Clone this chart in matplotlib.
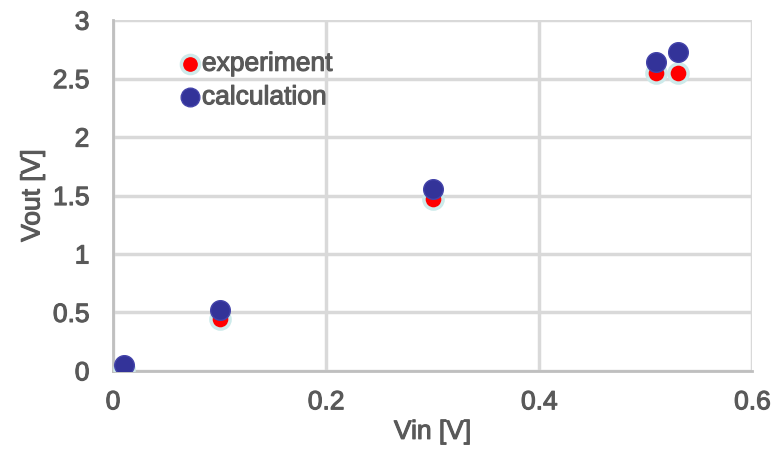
import matplotlib.pyplot as plt
import matplotlib.patheffects as pe

vin = [0.01, 0.1, 0.3, 0.51, 0.53]
vout_exp = [0.02, 0.44, 1.47, 2.55, 2.55]
vout_calc = [0.05, 0.52, 1.56, 2.64, 2.73]

x_ticks = [0, 0.2, 0.4, 0.6]
y_ticks = [0, 0.5, 1, 1.5, 2, 2.5, 3]
x_tick_labels = ['0', '0.2', '0.4', '0.6']
y_tick_labels = ['0', '0.5', '1', '1.5', '2', '2.5', '3']

plt.rcParams['font.family'] = ['Liberation Sans', 'DejaVu Sans']
text_color = '#595959'
bold_fx = [pe.withStroke(linewidth=0.8, foreground=text_color)]

fig = plt.figure(figsize=(7.74, 4.59), dpi=100)
ax = fig.add_axes([0.146, 0.192, 0.826, 0.764])

ax.scatter(vin, vout_exp, s=190, color='red', edgecolors='#cdeaea',
           linewidths=2.5, zorder=3, label='experiment')
ax.scatter(vin, vout_calc, s=200, color='#333399', edgecolors='#4444aa',
           linewidths=1, zorder=4, label='calculation')

ax.set_xlim(0, 0.6)
ax.set_ylim(0, 3)
ax.set_xticks(x_ticks)
ax.set_xticklabels(x_tick_labels)
ax.set_yticks(y_ticks)
ax.set_yticklabels(y_tick_labels)
ax.grid(True, color='#d9d9d9', linewidth=2.5, zorder=0)
ax.set_axisbelow(True)

for side in ['top', 'right']:
    ax.spines[side].set_visible(False)
for side in ['left', 'bottom']:
    ax.spines[side].set_color('#bfbfbf')
    ax.spines[side].set_linewidth(2)

ax.tick_params(length=0, labelsize=19, colors=text_color)
ax.tick_params(axis='y', pad=17)
ax.tick_params(axis='x', pad=14)
for lbl in ax.get_xticklabels() + ax.get_yticklabels():
    lbl.set_path_effects(bold_fx)
ax.set_xlabel('Vin [V]', fontsize=19, color=text_color, labelpad=4,
              path_effects=bold_fx)
ax.set_ylabel('Vout [V]', fontsize=19, color=text_color, labelpad=6,
              path_effects=bold_fx)

leg = ax.legend(loc='upper left', bbox_to_anchor=(0.104, 0.91), frameon=False,
                fontsize=19, handlelength=0.8, handletextpad=0.05,
                labelspacing=0.36, borderaxespad=0, borderpad=0,
                markerscale=0.95)
for t in leg.get_texts():
    t.set_color(text_color)
    t.set_path_effects(bold_fx)

fig.savefig('out.png', dpi=100)
